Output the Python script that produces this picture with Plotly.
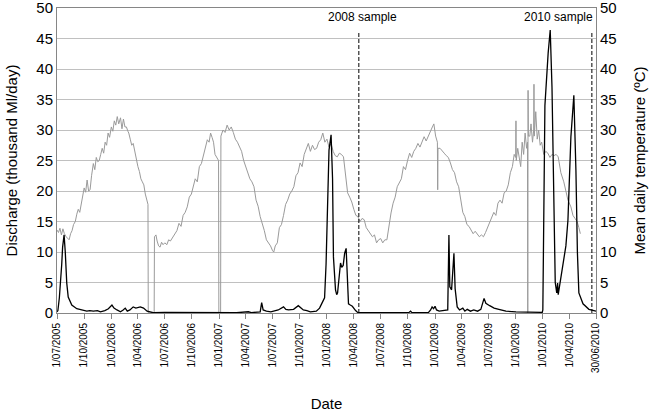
import plotly.graph_objects as go

# ---------------- data ----------------
temp_dates = [
    "2005-07-01","2005-07-06","2005-07-11","2005-07-16","2005-07-21","2005-07-26","2005-08-01","2005-08-06",
    "2005-08-11","2005-08-16","2005-08-21","2005-08-26","2005-09-01","2005-09-06","2005-09-11","2005-09-16",
    "2005-09-21","2005-09-26","2005-10-01","2005-10-06","2005-10-11","2005-10-16","2005-10-21","2005-10-26",
    "2005-11-01","2005-11-06","2005-11-11","2005-11-16","2005-11-21","2005-11-26","2005-12-01","2005-12-06",
    "2005-12-11","2005-12-16","2005-12-21","2005-12-26","2006-01-01","2006-01-06","2006-01-11","2006-01-16",
    "2006-01-21","2006-01-26","2006-02-01","2006-02-06","2006-02-11","2006-02-16","2006-02-21","2006-02-26",
    "2006-03-01","2006-03-06","2006-03-11","2006-03-16","2006-03-21","2006-03-26","2006-04-01","2006-04-06",
    "2006-04-11","2006-04-16","2006-04-21","2006-04-26","2006-05-01","2006-05-05","2006-05-06","2006-05-26",
    "2006-05-27","2006-06-01","2006-06-05","2006-06-10","2006-06-15","2006-06-20","2006-06-25","2006-07-01",
    "2006-07-08","2006-07-14","2006-07-20","2006-07-28","2006-08-04","2006-08-11","2006-08-18","2006-08-25",
    "2006-09-01","2006-09-08","2006-09-15","2006-09-22","2006-09-29","2006-10-05","2006-10-12","2006-10-19",
    "2006-10-26","2006-11-02","2006-11-09","2006-11-16","2006-11-22","2006-11-28","2006-12-03","2006-12-08",
    "2006-12-13","2006-12-18","2006-12-23","2006-12-30","2006-12-31","2007-01-06","2007-01-07","2007-01-14",
    "2007-01-21","2007-01-28","2007-02-04","2007-02-11","2007-02-18","2007-02-25","2007-03-04","2007-03-11",
    "2007-03-18","2007-03-25","2007-04-01","2007-04-08","2007-04-15","2007-04-22","2007-04-29","2007-05-06",
    "2007-05-13","2007-05-20","2007-05-27","2007-06-03","2007-06-10","2007-06-17","2007-06-24","2007-07-01",
    "2007-07-05","2007-07-10","2007-07-17","2007-07-24","2007-07-31","2007-08-07","2007-08-14","2007-08-21",
    "2007-08-28","2007-09-04","2007-09-11","2007-09-18","2007-09-25","2007-10-02","2007-10-09","2007-10-16",
    "2007-10-23","2007-10-30","2007-11-06","2007-11-13","2007-11-20","2007-11-27","2007-12-04","2007-12-11",
    "2007-12-18","2007-12-25","2008-01-01","2008-01-08","2008-01-15","2008-01-22","2008-01-29","2008-02-05",
    "2008-02-12","2008-02-19","2008-02-26","2008-03-04","2008-03-11","2008-03-18","2008-03-25","2008-04-01",
    "2008-04-08","2008-04-15","2008-04-22","2008-04-29","2008-05-06","2008-05-13","2008-05-20","2008-05-27",
    "2008-06-03","2008-06-10","2008-06-17","2008-06-24","2008-07-01","2008-07-08","2008-07-15","2008-07-22",
    "2008-07-29","2008-08-05","2008-08-12","2008-08-19","2008-08-26","2008-09-02","2008-09-09","2008-09-16",
    "2008-09-23","2008-09-30","2008-10-07","2008-10-14","2008-10-21","2008-10-28","2008-11-04","2008-11-11",
    "2008-11-18","2008-11-25","2008-12-02","2008-12-09","2008-12-16","2008-12-23","2008-12-28","2009-01-03",
    "2009-01-09","2009-01-10","2009-01-11","2009-01-18","2009-01-25","2009-02-01","2009-02-08","2009-02-15",
    "2009-02-22","2009-03-01","2009-03-08","2009-03-15","2009-03-22","2009-03-29","2009-04-05","2009-04-12",
    "2009-04-19","2009-04-26","2009-05-03","2009-05-10","2009-05-17","2009-05-24","2009-05-31","2009-06-07",
    "2009-06-14","2009-06-21","2009-06-28","2009-07-05","2009-07-12","2009-07-19","2009-07-26","2009-08-02",
    "2009-08-09","2009-08-16","2009-08-23","2009-08-30","2009-09-06","2009-09-13","2009-09-20","2009-09-26",
    "2009-10-01","2009-10-02","2009-10-03","2009-10-08","2009-10-13","2009-10-18","2009-10-23","2009-10-28",
    "2009-11-02","2009-11-07","2009-11-10","2009-11-11","2009-11-12","2009-11-13","2009-11-18","2009-11-22",
    "2009-11-27","2009-12-01","2009-12-02","2009-12-03","2009-12-08","2009-12-13","2009-12-18","2009-12-23",
    "2009-12-28","2010-01-04","2010-01-11","2010-01-18","2010-01-25","2010-02-01","2010-02-08","2010-02-15",
    "2010-02-22","2010-03-03","2010-03-13","2010-03-20","2010-03-27","2010-04-06","2010-04-13","2010-04-20",
    "2010-04-27","2010-05-03","2010-05-08",
]
temp_values = [
    13.6, 13.2, 13.9, 12.8, 13.8, 13.0, 12.5, 12.3,
    12.0, 13.0, 13.5, 14.5, 15.0, 16.2, 17.0, 16.5,
    18.0, 19.5, 20.5, 19.8, 21.8, 20.0, 20.2, 22.5,
    24.5, 23.5, 25.5, 24.8, 25.0, 26.0, 27.0, 26.2,
    28.0, 27.5, 29.5, 28.8, 30.5, 29.8, 31.5, 30.8,
    32.2, 31.0, 32.0, 30.2, 31.8, 30.5, 30.5, 29.8,
    29.5, 28.5, 27.5, 27.8, 26.5, 25.0, 24.0, 23.2,
    22.0, 21.5, 21.0, 19.5, 18.5, 17.8, 0.0, 0.0,
    12.5, 12.8, 11.8, 11.0, 10.8, 11.6, 11.2, 11.5,
    11.2, 12.0, 11.8, 12.5, 13.0, 13.5, 14.7, 14.2,
    16.0, 16.5, 17.4, 19.0, 19.5, 20.7, 22.0, 21.5,
    24.0, 24.5, 26.0, 27.5, 28.4, 28.0, 29.5, 28.8,
    28.0, 26.0, 25.5, 25.0, 0.0, 0.0, 29.0, 30.0,
    29.6, 30.8, 30.0, 30.5, 29.6, 28.5, 28.0, 27.2,
    26.5, 25.0, 24.0, 23.0, 22.0, 21.5, 20.7, 18.5,
    17.5, 15.8, 14.8, 13.5, 12.0, 11.5, 11.0, 10.2,
    10.0, 11.0, 11.5, 14.0, 14.5, 16.0, 17.8, 18.5,
    19.5, 20.0, 20.7, 22.5, 23.0, 24.6, 24.0, 26.0,
    27.0, 27.8, 26.5, 27.5, 26.8, 27.0, 28.0, 28.4,
    29.5, 28.0, 28.5, 27.2, 27.8, 26.5, 25.8, 25.6,
    26.2, 26.0, 25.6, 22.0, 19.7, 19.0, 18.2, 17.0,
    16.0, 15.8, 15.0, 15.5, 15.3, 14.0, 13.5, 13.1,
    12.5, 12.8, 11.5, 12.0, 12.2, 11.5, 12.0, 12.0,
    14.5, 16.4, 18.0, 19.0, 20.7, 21.5, 22.0, 24.0,
    23.5, 25.0, 26.2, 25.5, 26.5, 27.0, 27.8, 27.2,
    28.0, 28.9, 28.2, 29.0, 30.0, 30.5, 31.0, 29.0,
    28.0, 20.2, 27.0, 27.0, 26.5, 26.2, 25.8, 25.5,
    24.6, 23.5, 23.0, 21.5, 20.7, 18.5, 16.5, 15.8,
    14.5, 14.2, 13.6, 13.0, 13.4, 13.0, 12.5, 12.8,
    12.5, 13.2, 14.0, 15.0, 15.8, 16.5, 16.0, 18.0,
    18.5, 18.0, 19.7, 20.0, 21.0, 23.0, 24.0, 26.0,
    25.5, 31.5, 25.0, 27.0, 25.0, 24.0, 28.0, 26.0,
    29.5, 27.0, 28.0, 0.0, 36.5, 29.0, 29.0, 31.0,
    28.0, 30.0, 37.5, 29.0, 33.0, 28.5, 30.0, 27.5,
    28.0, 26.0, 26.5, 26.2, 25.5, 26.0, 25.8, 26.0,
    25.6, 23.0, 21.5, 20.0, 18.5, 17.4, 16.0, 15.5,
    15.0, 14.0, 13.0,
]

flow_dates = [
    "2005-07-01","2005-07-04","2005-07-09","2005-07-13","2005-07-17","2005-07-20","2005-07-25","2005-07-29",
    "2005-08-03","2005-08-08","2005-08-14","2005-08-20","2005-09-06","2005-09-27","2005-10-10","2005-10-20",
    "2005-11-01","2005-11-15","2005-11-25","2005-12-10","2005-12-22","2006-01-03","2006-01-10","2006-01-20",
    "2006-02-01","2006-02-10","2006-02-17","2006-02-24","2006-03-05","2006-03-16","2006-03-25","2006-04-09",
    "2006-04-20","2006-05-02","2006-05-23","2006-07-01","2006-08-01","2006-09-01","2006-10-01","2006-11-01",
    "2006-12-01","2007-01-01","2007-02-01","2007-03-01","2007-04-10","2007-04-20","2007-05-20","2007-05-25",
    "2007-05-30","2007-06-10","2007-06-25","2007-07-04","2007-07-20","2007-08-07","2007-08-15","2007-08-24",
    "2007-09-10","2007-09-26","2007-10-05","2007-10-13","2007-10-25","2007-11-06","2007-11-26","2007-12-07",
    "2007-12-16","2007-12-24","2007-12-29","2008-01-03","2008-01-08","2008-01-15","2008-01-20","2008-01-23",
    "2008-01-30","2008-02-03","2008-02-06","2008-02-16","2008-02-20","2008-02-25","2008-03-01","2008-03-06",
    "2008-03-09","2008-03-11","2008-03-14","2008-03-20","2008-03-27","2008-04-07","2008-04-14","2008-06-01",
    "2008-08-01","2008-10-05","2008-10-10","2008-10-15","2008-12-10","2008-12-17","2008-12-22","2008-12-27",
    "2009-01-01","2009-01-06","2009-01-15","2009-02-13","2009-02-17","2009-02-20","2009-02-26","2009-03-03",
    "2009-03-06","2009-03-10","2009-03-17","2009-03-25","2009-04-05","2009-04-12","2009-04-20","2009-05-01",
    "2009-05-12","2009-05-25","2009-06-05","2009-06-16","2009-06-22","2009-07-05","2009-07-20","2009-08-05",
    "2009-08-29","2009-10-02","2009-11-11","2009-12-08","2009-12-30","2010-01-01","2010-01-03","2010-01-08",
    "2010-01-19","2010-01-26","2010-02-01","2010-02-06","2010-02-12","2010-02-17","2010-02-20","2010-02-22",
    "2010-03-03","2010-03-13","2010-03-20","2010-03-27","2010-04-06","2010-04-16","2010-04-23","2010-04-28",
    "2010-05-03","2010-05-17","2010-06-06","2010-06-30",
]
flow_values = [
    0.2, 0.4, 2.5, 4.9, 8.0, 10.8, 12.8, 10.0,
    4.9, 2.6, 1.8, 1.3, 0.7, 0.5, 0.3, 0.4,
    0.3, 0.4, 0.2, 0.4, 0.7, 1.3, 0.8, 0.5,
    0.2, 0.5, 0.8, 0.3, 0.5, 1.0, 0.8, 1.0,
    0.8, 0.3, 0.05, 0.1, 0.1, 0.05, 0.1, 0.05,
    0.05, 0.05, 0.05, 0.05, 0.2, 0.05, 0.2, 1.7,
    0.5, 0.3, 0.2, 0.3, 0.5, 1.0, 0.6, 0.5,
    0.6, 1.2, 0.8, 0.5, 0.4, 0.2, 0.3, 0.8,
    1.7, 2.5, 8.0, 18.5, 26.7, 29.2, 22.0, 9.2,
    3.8, 3.0, 3.3, 8.2, 7.5, 7.8, 9.8, 10.6,
    6.0, 3.3, 1.5, 1.3, 1.1, 0.4, 0.1, 0.05,
    0.05, 0.1, 0.3, 0.05, 0.1, 0.5, 1.0, 0.7,
    1.1, 0.5, 0.3, 0.5, 12.8, 4.3, 3.8, 7.0,
    9.8, 4.0, 1.0, 0.5, 0.8, 0.3, 0.6, 0.3,
    0.5, 0.3, 0.6, 2.4, 1.6, 1.2, 0.8, 0.6,
    0.3, 0.2, 0.1, 0.05, 0.1, 0.5, 14.0, 34.0,
    42.6, 46.4, 37.0, 20.7, 5.0, 3.3, 4.9, 3.0,
    6.0, 8.7, 11.0, 15.2, 28.9, 35.7, 23.4, 10.0,
    3.3, 1.5, 0.6, 0.3,
]

sample_dates = ["2008-04-18", "2010-06-16"]
sample_labels = ["2008 sample", "2010 sample"]

tick_dates = [
    "2005-07-01","2005-10-01","2006-01-01","2006-04-01","2006-07-01","2006-10-01","2007-01-01",
    "2007-04-01","2007-07-01","2007-10-01","2008-01-01","2008-04-01","2008-07-01","2008-10-01",
    "2009-01-01","2009-04-01","2009-07-01","2009-10-01","2010-01-01","2010-04-01","2010-06-30",
]
tick_labels = [
    "1/07/2005","1/10/2005","1/01/2006","1/04/2006","1/07/2006","1/10/2006","1/01/2007",
    "1/04/2007","1/07/2007","1/10/2007","1/01/2008","1/04/2008","1/07/2008","1/10/2008",
    "1/01/2009","1/04/2009","1/07/2009","1/10/2009","1/01/2010","1/04/2010","30/06/2010",
]
y_ticks = [0, 5, 10, 15, 20, 25, 30, 35, 40, 45, 50]

# ---------------- figure ----------------
FONT = "Liberation Sans, Arial, sans-serif"
fig = go.Figure()

fig.add_trace(go.Scatter(
    x=temp_dates, y=temp_values, mode="lines", name="Mean daily temperature",
    line=dict(color="#9a9a9a", width=1), yaxis="y", showlegend=False,
))
fig.add_trace(go.Scatter(
    x=flow_dates, y=flow_values, mode="lines", name="Discharge",
    line=dict(color="#000000", width=1.3), yaxis="y2", showlegend=False,
))

for d, lab, anchor, shift in zip(sample_dates, sample_labels, ["center", "right"], [4, 3]):
    fig.add_shape(type="line", xref="x", yref="y2", x0=d, x1=d, y0=0, y1=46.2,
                  line=dict(color="#000000", width=1, dash="4px,2px"))
    fig.add_annotation(x=d, y=48.6, xref="x", yref="y2", text=lab, showarrow=False,
                       xanchor=anchor, xshift=shift, yanchor="middle",
                       font=dict(family=FONT, size=12, color="#000000"))

fig.update_layout(
    width=654, height=414,
    margin=dict(l=57, r=58, t=8, b=101, autoexpand=False),
    paper_bgcolor="white", plot_bgcolor="white",
    font=dict(family=FONT, color="#000000"),
    hovermode=False,
    xaxis=dict(
        type="date", range=["2005-07-01", "2010-06-30"], automargin=False,
        tickvals=tick_dates, ticktext=tick_labels, tickangle=-90,
        tickfont=dict(size=10), ticks="outside", ticklen=5, tickcolor="#868686",
        showgrid=False, showline=True, linecolor="#868686", mirror=True, zeroline=False,
        title=dict(text="Date", font=dict(size=15), standoff=26),
    ),
    yaxis=dict(
        range=[0, 50.0001], tickvals=y_ticks, side="right", automargin=False,
        tickfont=dict(size=15), showgrid=True, gridcolor="#c0c0c0", gridwidth=1,
        showline=True, linecolor="#868686", zeroline=False, ticks="",
        ticklabeloverflow="allow",
        title=dict(text="Mean daily temperature (ºC)", font=dict(size=15), standoff=18),
    ),
    yaxis2=dict(
        range=[0, 50.0001], tickvals=y_ticks, side="left", overlaying="y", automargin=False,
        tickfont=dict(size=15), showgrid=False,
        showline=True, linecolor="#868686", zeroline=False, ticks="",
        ticklabeloverflow="allow",
        title=dict(text="Discharge (thousand Ml/day)", font=dict(size=15), standoff=15),
    ),
)

fig.write_html("out.html", config={"displayModeBar": False, "staticPlot": True},
               post_script="document.body.style.margin='0px';")
